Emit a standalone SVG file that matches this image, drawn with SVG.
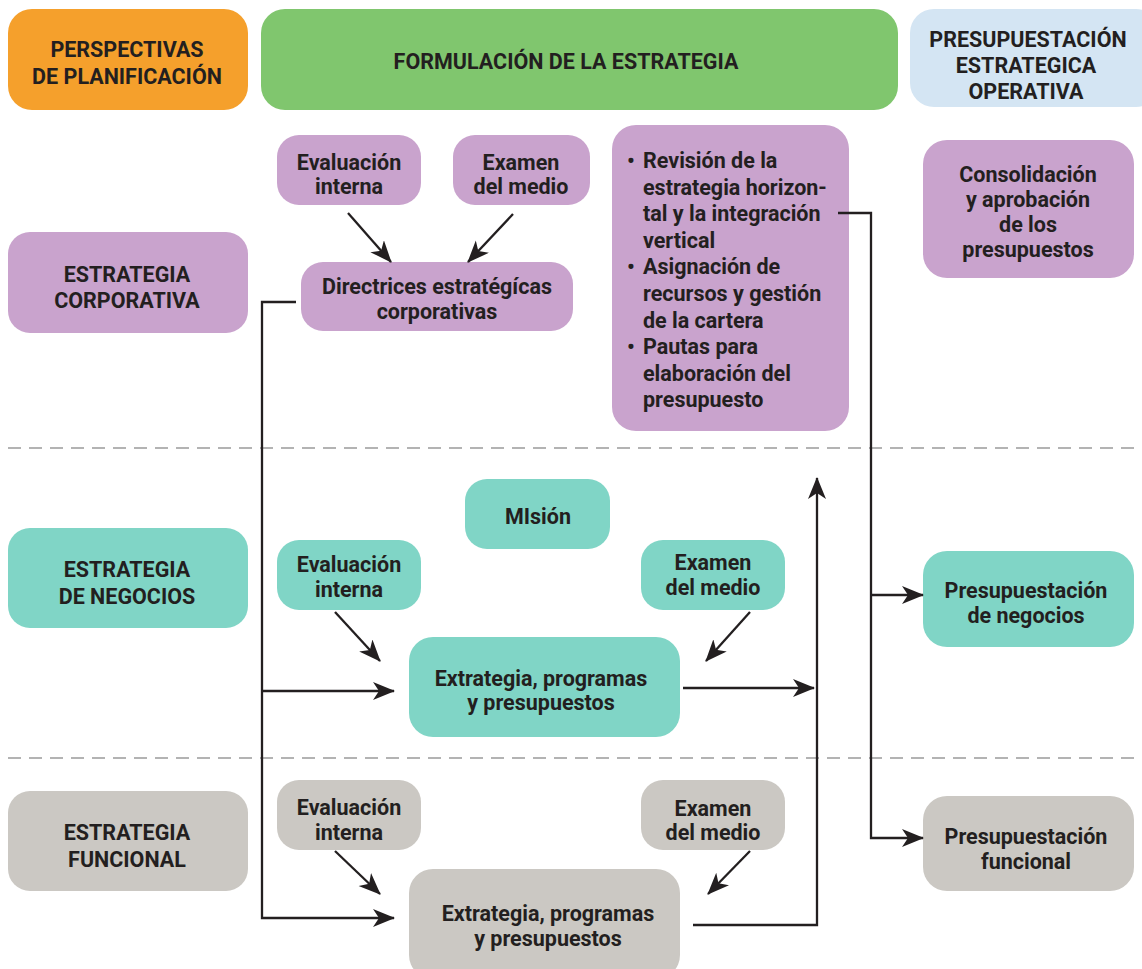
<svg xmlns="http://www.w3.org/2000/svg" width="1142" height="969" viewBox="0 0 1142 969">
<defs>
<marker id="ah" markerUnits="userSpaceOnUse" markerWidth="24" markerHeight="20" refX="21" refY="9" orient="auto">
<path d="M0,0 L22,9 L0,18 L6,9 z" fill="#231f20"/>
</marker>
<style>
text{font-family:Roboto,"Liberation Sans",sans-serif;font-weight:bold;font-size:21.5px;fill:#231f20;text-anchor:middle}
.l{text-anchor:start}
.or{fill:#f5a02c}.gr{fill:#80c66e}.bl{fill:#d4e5f3}.pu{fill:#c9a3cd}.te{fill:#80d5c6}.gy{fill:#cbc8c3}
.c{fill:none;stroke:#231f20;stroke-width:2.3}
.a{marker-end:url(#ah)}
.d{stroke:#b3b3b3;stroke-width:2;stroke-dasharray:13 8;fill:none}
</style>
</defs>
<rect width="1142" height="969" fill="#ffffff"/>
<g id="dividers">
<line class="d" x1="8" y1="448" x2="1138" y2="448"/>
<line class="d" x1="8" y1="758" x2="1138" y2="758"/>
</g>
<g id="h-perspectivas"><rect class="or" x="8" y="9" width="240" height="101" rx="24"/>
<text x="127" y="57">PERSPECTIVAS</text><text x="127" y="84">DE PLANIFICACIÓN</text></g>
<g id="h-formulacion"><rect class="gr" x="261" y="9" width="637" height="101" rx="24"/>
<text x="566" y="69">FORMULACIÓN DE LA ESTRATEGIA</text></g>
<g id="h-presupuestacion"><rect class="bl" x="910" y="9" width="250" height="98" rx="24"/>
<text x="1028" y="47">PRESUPUESTACIÓN</text><text x="1026" y="73">ESTRATEGICA</text><text x="1026" y="99">OPERATIVA</text></g>

<g id="corporativa"><rect class="pu" x="8" y="232" width="240" height="101" rx="22"/>
<text x="127" y="282">ESTRATEGIA</text><text x="127" y="308">CORPORATIVA</text></g>
<g id="p-eval"><rect class="pu" x="277" y="135" width="144" height="70" rx="22"/>
<text x="349" y="170">Evaluación</text><text x="349" y="194">interna</text></g>
<g id="p-exam"><rect class="pu" x="453" y="135" width="137" height="70" rx="22"/>
<text x="521" y="170">Examen</text><text x="521" y="194">del medio</text></g>
<g id="p-directrices"><rect class="pu" x="301" y="262" width="272" height="69" rx="22"/>
<text x="437" y="294">Directrices estratégícas</text><text x="437" y="319">corporativas</text></g>
<g id="p-list"><rect class="pu" x="612" y="125" width="237" height="306" rx="24"/>
<text class="l" x="627" y="168">•</text><text class="l" x="643" y="168">Revisión de la</text>
<text class="l" x="643" y="194.6">estrategia horizon-</text>
<text class="l" x="643" y="221.2">tal y la integración</text>
<text class="l" x="643" y="247.8">vertical</text>
<text class="l" x="627" y="274.4">•</text><text class="l" x="643" y="274.4">Asignación de</text>
<text class="l" x="643" y="301">recursos y gestión</text>
<text class="l" x="643" y="327.6">de la cartera</text>
<text class="l" x="627" y="354.2">•</text><text class="l" x="643" y="354.2">Pautas para</text>
<text class="l" x="643" y="380.8">elaboración del</text>
<text class="l" x="643" y="407.4">presupuesto</text></g>
<g id="consolidacion"><rect class="pu" x="923" y="140" width="211" height="138" rx="24"/>
<text x="1028" y="182">Consolidación</text><text x="1028" y="207">y aprobación</text><text x="1028" y="232">de los</text><text x="1028" y="257">presupuestos</text></g>

<g id="negocios"><rect class="te" x="8" y="528" width="240" height="100" rx="22"/>
<text x="127" y="577">ESTRATEGIA</text><text x="127" y="604">DE NEGOCIOS</text></g>
<g id="mision"><rect class="te" x="465" y="479" width="145" height="70" rx="22"/>
<text x="538" y="524">MIsión</text></g>
<g id="t-eval"><rect class="te" x="277" y="540" width="144" height="70" rx="22"/>
<text x="349" y="572">Evaluación</text><text x="349" y="597">interna</text></g>
<g id="t-exam"><rect class="te" x="641" y="540" width="144" height="70" rx="22"/>
<text x="713" y="570">Examen</text><text x="713" y="595">del medio</text></g>
<g id="t-extr"><rect class="te" x="409" y="637" width="271" height="100" rx="24"/>
<text x="541" y="686">Extrategia, programas</text><text x="541" y="710">y presupuestos</text></g>
<g id="pres-negocios"><rect class="te" x="923" y="551" width="211" height="96" rx="24"/>
<text x="1026" y="598">Presupuestación</text><text x="1026" y="623">de negocios</text></g>

<g id="funcional"><rect class="gy" x="8" y="791" width="240" height="100" rx="22"/>
<text x="127" y="840">ESTRATEGIA</text><text x="127" y="867">FUNCIONAL</text></g>
<g id="g-eval"><rect class="gy" x="277" y="780" width="144" height="70" rx="22"/>
<text x="349" y="815">Evaluación</text><text x="349" y="840">interna</text></g>
<g id="g-exam"><rect class="gy" x="641" y="780" width="144" height="70" rx="22"/>
<text x="713" y="816">Examen</text><text x="713" y="840">del medio</text></g>
<g id="g-extr"><rect class="gy" x="409" y="869" width="271" height="110" rx="24"/>
<text x="548" y="921">Extrategia, programas</text><text x="548" y="946">y presupuestos</text></g>
<g id="pres-funcional"><rect class="gy" x="923" y="796" width="211" height="95" rx="24"/>
<text x="1026" y="844">Presupuestación</text><text x="1026" y="869">funcional</text></g>

<g id="connectors">
<path class="c a" d="M348,213 L391,262"/>
<path class="c a" d="M513,214 L468,262"/>
<path class="c a" d="M296,302 H262 V918 H394"/>
<path class="c a" d="M262,691 H394"/>
<path class="c a" d="M335,612 L380,661"/>
<path class="c a" d="M750,612 L706,661"/>
<path class="c a" d="M335,851 L380,894"/>
<path class="c a" d="M750,851 L708,894"/>
<path class="c a" d="M683,688 H814"/>
<path class="c a" d="M693,925 H817 V478"/>
<path class="c a" d="M838,213 H871 V838 H923"/>
<path class="c a" d="M871,595 H923"/>
</g>
</svg>
